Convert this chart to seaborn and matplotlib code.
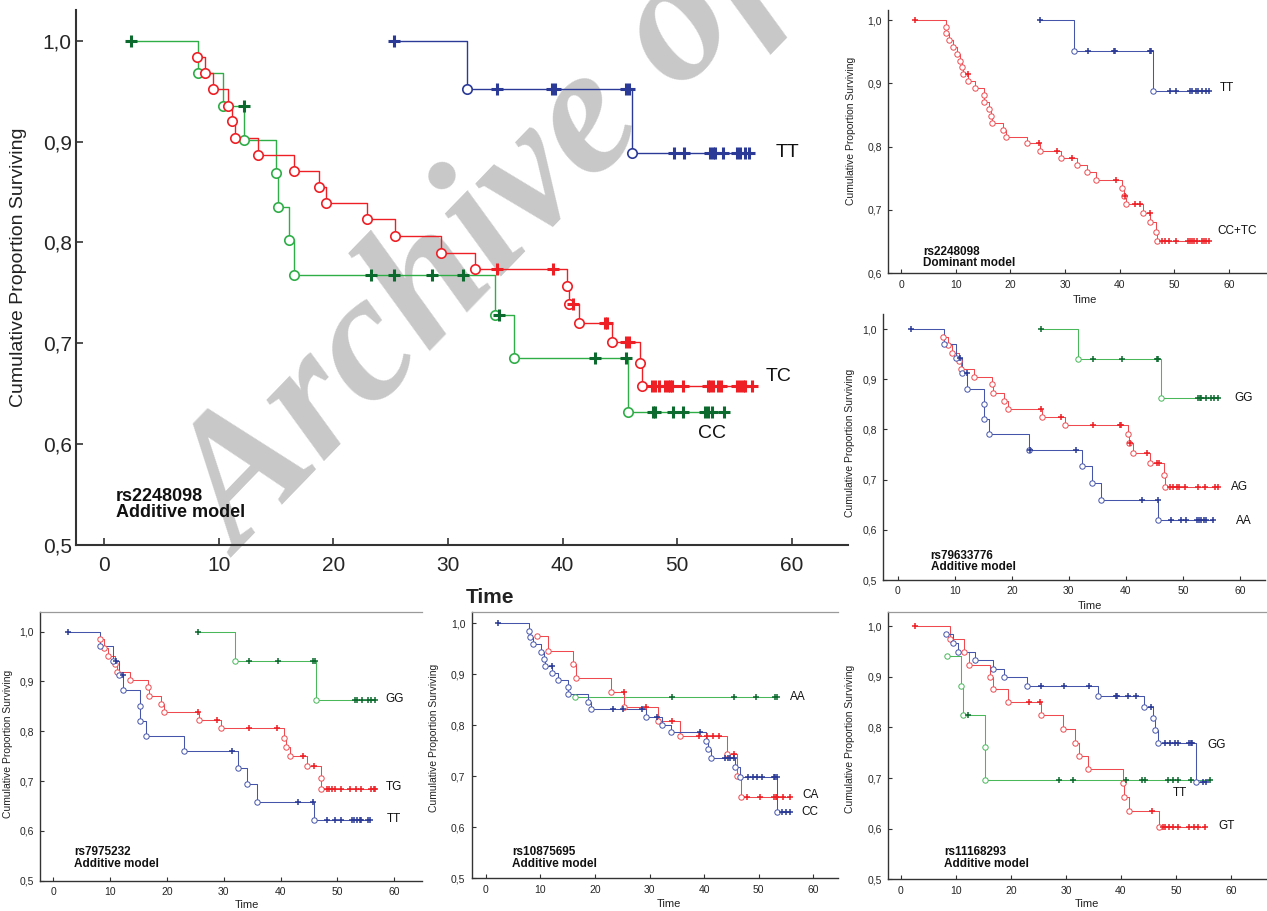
import numpy as np
import pandas as pd
import matplotlib
matplotlib.use('Agg')
import matplotlib.pyplot as plt
import seaborn as sns
from matplotlib.ticker import FuncFormatter
import warnings

warnings.filterwarnings('ignore')

# ---- data: event times / survival after event / censored times ----
# main panel, rs2248098 additive model
main_cc_ev_t = [8.2, 10.35, 12.2, 15.0, 15.2, 16.1, 16.6, 34.1, 35.8, 45.7]
main_cc_ev_s = [0.968, 0.935, 0.902, 0.869, 0.835, 0.802, 0.768, 0.728, 0.685, 0.632]
main_cc_cen_t = [2.4, 12.2, 23.3, 25.3, 28.6, 31.3, 34.5, 42.8, 45.5, 47.9, 48.1,
                 49.6, 50.5, 52.4, 52.7, 53.0, 54.1]
main_tc_ev_t = [8.15, 8.85, 9.53, 10.82, 11.13, 11.39, 13.46, 16.6, 18.8, 19.35,
                22.95, 25.4, 29.4, 32.4, 40.4, 40.6, 41.4, 44.3, 46.8, 46.9]
main_tc_ev_s = [0.984, 0.968, 0.952, 0.9355, 0.920, 0.904, 0.887, 0.871, 0.855, 0.839,
                0.823, 0.8065, 0.790, 0.774, 0.757, 0.7385, 0.720, 0.701, 0.680, 0.658]
main_tc_cen_t = [34.3, 39.2, 40.9, 43.7, 43.9, 45.5, 45.8, 47.8, 48.1, 48.4, 48.97,
                 49.2, 49.4, 49.55, 50.5, 52.7, 52.9, 53.1, 53.6, 53.8, 55.2, 55.5,
                 55.7, 55.9, 56.5]
main_tt_ev_t = [31.7, 46.1]
main_tt_ev_s = [0.952, 0.889]
main_tt_cen_t = [25.3, 34.3, 39.1, 39.3, 45.5, 45.8, 49.7, 50.6, 52.9, 53.1, 53.3,
                 54.0, 55.2, 55.5, 55.9, 56.3]

# top right, rs2248098 dominant model
dom_cctc_ev_t = [8.19, 8.25, 8.86, 9.6, 10.3, 10.8, 11.1, 11.4, 12.3, 13.5,
                 15.1, 15.2, 16.1, 16.55, 16.7, 18.75, 19.3, 23.0, 25.5, 29.3,
                 32.3, 34.0, 35.7, 40.4, 40.75, 41.2, 44.2, 45.6, 46.7, 46.85]
dom_cctc_ev_s = [0.9895, 0.979, 0.968, 0.957, 0.946, 0.936, 0.925, 0.915, 0.904, 0.892,
                 0.8816, 0.8705, 0.859, 0.849, 0.838, 0.827, 0.816, 0.805, 0.7937, 0.7826,
                 0.771, 0.7595, 0.747, 0.734, 0.7226, 0.709, 0.696, 0.6816, 0.666, 0.6505]
dom_cctc_cen_t = [2.57, 12.3, 25.3, 28.6, 31.3, 39.3, 41.0, 42.8, 43.8, 45.5, 47.8,
                  48.4, 49.0, 50.4, 52.5, 52.95, 53.3, 53.7, 54.2, 55.1, 55.5, 55.9, 56.3]
dom_tt_ev_t = [31.6, 46.06]
dom_tt_ev_s = [0.9516, 0.888]
dom_tt_cen_t = [25.35, 34.3, 38.9, 39.1, 45.5, 45.8, 49.3, 50.4, 52.8, 53.3, 53.9,
                54.3, 55.1, 55.9, 56.3]

# middle right, rs79633776
r796_gg_ev_t = [31.66, 46.1]
r796_gg_ev_s = [0.9408, 0.8624]
r796_gg_cen_t = [25.1, 34.3, 39.25, 45.4, 45.7, 52.7, 53.0, 53.2, 54.0, 54.9, 55.4, 56.1]
r796_ag_ev_t = [8.0, 8.76, 9.46, 10.75, 11.04, 13.3, 16.5, 16.65, 18.7, 19.3,
                25.3, 29.4, 40.4, 40.5, 41.3, 44.2, 46.7, 46.85]
r796_ag_ev_s = [0.984, 0.968, 0.952, 0.937, 0.920, 0.905, 0.890, 0.873, 0.857, 0.841,
                0.825, 0.8085, 0.790, 0.772, 0.7527, 0.733, 0.7094, 0.6862]
r796_ag_cen_t = [25.2, 28.7, 34.3, 39.0, 39.2, 40.8, 43.7, 45.5, 45.8, 47.7, 48.3,
                 48.9, 49.35, 50.35, 52.7, 53.85, 55.6, 56.1]
r796_aa_ev_t = [8.1, 10.3, 11.3, 12.2, 15.07, 15.1, 16.06, 22.96, 32.3, 34.0, 35.7, 45.7]
r796_aa_ev_s = [0.9707, 0.9415, 0.912, 0.881, 0.850, 0.8205, 0.790, 0.7593,
                0.7274, 0.6935, 0.659, 0.6197]
r796_aa_cen_t = [2.34, 10.9, 12.1, 23.2, 31.25, 42.75, 45.6, 47.9, 49.6, 50.5,
                 52.5, 52.8, 53.1, 53.7, 54.0, 55.3]

# bottom left, rs7975232
r797_gg_ev_t = [31.96, 46.3]
r797_gg_ev_s = [0.941, 0.8628]
r797_gg_cen_t = [25.5, 34.5, 39.5, 45.75, 46.1, 53.1, 53.5, 54.4, 55.4, 56.0, 56.6]
r797_tg_ev_t = [8.2, 8.97, 9.56, 10.85, 11.2, 13.55, 16.7, 16.8, 18.9, 19.5,
                25.6, 29.6, 40.6, 40.9, 41.6, 44.6, 47.1, 47.2]
r797_tg_ev_s = [0.9846, 0.968, 0.952, 0.936, 0.9197, 0.903, 0.888, 0.8715, 0.855, 0.839,
                0.8226, 0.806, 0.787, 0.769, 0.750, 0.730, 0.707, 0.684]
r797_tg_cen_t = [25.5, 28.9, 34.4, 39.3, 44.0, 45.9, 48.1, 48.6, 49.1, 49.6, 50.6,
                 52.2, 53.3, 54.1, 55.9, 56.4, 56.7]
r797_tt_ev_t = [8.2, 10.5, 11.5, 12.3, 15.25, 15.3, 16.25, 23.05, 32.55, 34.1, 35.9, 45.9]
r797_tt_ev_s = [0.971, 0.9418, 0.912, 0.882, 0.8514, 0.8206, 0.7905, 0.760,
                0.727, 0.6934, 0.6586, 0.621]
r797_tt_cen_t = [2.52, 11.0, 12.2, 31.5, 43.1, 45.8, 48.2, 49.6, 50.6, 52.6, 52.9,
                 53.4, 53.9, 54.2, 55.4, 55.7]

# bottom middle, rs10875695
r108_aa_ev_t = [16.4]
r108_aa_ev_s = [0.856]
r108_aa_cen_t = [34.2, 45.4, 49.5, 53.0, 53.3]
r108_ca_ev_t = [9.34, 11.36, 15.93, 16.48, 22.9, 25.33, 31.5, 35.6, 44.1, 46.1, 46.75]
r108_ca_ev_s = [0.974, 0.9464, 0.9196, 0.893, 0.8647, 0.8366, 0.8085, 0.778,
                0.743, 0.7006, 0.660]
r108_ca_cen_t = [25.25, 29.4, 34.2, 39.1, 40.5, 41.6, 42.7, 45.5, 47.8, 50.3, 52.7,
                 53.1, 53.4, 54.4, 55.7]
r108_cc_ev_t = [8.0, 8.12, 8.73, 10.13, 10.68, 10.9, 12.15, 13.3, 15.0, 15.05,
                18.7, 19.2, 29.36, 32.2, 33.9, 40.35, 40.65, 41.2, 45.6, 46.6, 53.4]
r108_cc_ev_s = [0.9856, 0.9725, 0.9588, 0.9444, 0.930, 0.9163, 0.9026, 0.889, 0.8745, 0.861,
                0.8464, 0.8314, 0.8157, 0.80, 0.786, 0.770, 0.753, 0.7365, 0.7176, 0.698, 0.629]
r108_cc_cen_t = [2.2, 12.1, 23.3, 25.2, 28.6, 31.3, 39.25, 43.8, 44.3, 44.75, 45.4,
                 48.1, 49.0, 49.6, 50.5, 52.7, 53.0, 53.3, 54.2, 55.0, 55.7]

# bottom right, rs11168293
r111_gt_ev_t = [8.9, 11.45, 12.3, 16.1, 16.7, 19.4, 25.45, 29.4, 31.7, 32.4, 34.06,
                40.4, 40.6, 41.4, 46.9]
r111_gt_ev_s = [0.974, 0.949, 0.924, 0.899, 0.875, 0.850, 0.8237, 0.797, 0.770, 0.744,
                0.717, 0.6895, 0.662, 0.635, 0.6026]
r111_gt_cen_t = [2.55, 23.3, 25.3, 45.6, 47.7, 48.0, 48.7, 49.5, 50.4, 52.4, 53.3, 54.1, 55.3]
r111_gg_ev_t = [8.2, 9.5, 10.4, 13.45, 16.7, 18.8, 22.97, 35.76, 44.24, 45.76, 46.2, 46.8, 53.6]
r111_gg_ev_s = [0.9836, 0.9658, 0.949, 0.933, 0.915, 0.8987, 0.8816, 0.862, 0.8408,
                0.8184, 0.794, 0.770, 0.6928]
r111_gg_cen_t = [25.45, 29.6, 34.2, 39.1, 39.3, 41.3, 42.7, 45.4, 48.0, 48.9, 49.8,
                 50.4, 52.4, 52.7, 53.0, 55.0, 55.45]
r111_tt_ev_t = [8.3, 10.85, 11.2, 15.27, 15.3]
r111_tt_ev_s = [0.9414, 0.8822, 0.8243, 0.7605, 0.697]
r111_tt_cen_t = [12.2, 28.7, 31.3, 40.9, 43.8, 44.4, 48.6, 49.4, 50.4, 52.7, 56.2]

# ---- style ----
sns.set_style('ticks')
plt.rcParams['font.family'] = ['Liberation Sans', 'DejaVu Sans']
plt.rcParams['xtick.direction'] = 'in'
plt.rcParams['ytick.direction'] = 'in'

RED, RED_L = '#ee2026', '#f04a50'
BLUE, BLUE_L = '#2b3a96', '#4555aa'
GREEN, GREEN_L, GREEN_D = '#2fae48', '#48b85a', '#0d6a2e'

comma = FuncFormatter(lambda v, p: f'{v:.1f}'.replace('.', ','))


def km_frame(ev_t, ev_s, cen_t):
    ev_t = np.asarray(ev_t, float)
    ev_s = np.asarray(ev_s, float)
    cen_t = np.asarray(cen_t, float)
    idx = np.searchsorted(ev_t, cen_t, side='left')
    cen_s = np.where(idx > 0, ev_s[np.maximum(idx - 1, 0)], 1.0)
    df = pd.concat([
        pd.DataFrame({'t': ev_t, 's': ev_s, 'kind': 'event', 'order': 1}),
        pd.DataFrame({'t': cen_t, 's': cen_s, 'kind': 'cens', 'order': 0}),
    ])
    return df.sort_values(['t', 'order'], kind='stable').reset_index(drop=True)


def draw_km(ax, ev_t, ev_s, cen_t, line_c, cross_c, big):
    df = km_frame(ev_t, ev_s, cen_t)
    lw = 1.0 if big else 0.75
    sns.lineplot(data=df, x='t', y='s', ax=ax, color=line_c, lw=lw,
                 drawstyle='steps-post', estimator=None, sort=False)
    ev = df[df['kind'] == 'event']
    ce = df[df['kind'] == 'cens']
    sns.scatterplot(data=ev, x='t', y='s', ax=ax, marker='o', s=46 if big else 15,
                    color=line_c, facecolor='white', edgecolor=line_c,
                    linewidth=1.2 if big else 0.7, zorder=3)
    sns.scatterplot(data=ce, x='t', y='s', ax=ax, marker='+', s=70 if big else 18,
                    color=cross_c, linewidth=2.2 if big else 1.1, zorder=4)


def style_axes(ax, xlim, ylim, yticks, big, top_line=False):
    ax.set_xlim(*xlim)
    ax.set_ylim(*ylim)
    ax.set_xticks([0, 10, 20, 30, 40, 50, 60])
    ax.set_yticks(yticks)
    ax.yaxis.set_major_formatter(comma)
    ax.set_facecolor('none')
    for side in ['right', 'top']:
        ax.spines[side].set_visible(False)
    if top_line:
        ax.spines['top'].set_visible(True)
        ax.spines['top'].set_color('#9a9a9a')
        ax.spines['top'].set_linewidth(0.9)
    for side in ['left', 'bottom']:
        ax.spines[side].set_color('#333333')
        ax.spines[side].set_linewidth(1.5 if big else 1.0)
    if big:
        ax.tick_params(labelsize=15, length=5, width=1.2, color='#333333', pad=8)
        ax.tick_params(axis='y', pad=3)
    else:
        ax.tick_params(labelsize=7.5, length=3, width=0.8, color='#333333', pad=4.5)


def labels(ax, big, yl_pos, xl_pos):
    ax.set_ylabel('Cumulative Proportion Surviving', fontsize=14 if big else 7.5,
                  color='#222222')
    ax.yaxis.set_label_coords(*yl_pos)
    ax.set_xlabel('Time', fontsize=15 if big else 8, fontweight='bold' if big else 'normal',
                  color='#222222')
    ax.xaxis.set_label_coords(*xl_pos)


def snp_note(ax, text, pos, big):
    ax.text(pos[0], pos[1], text, transform=ax.transAxes, ha='left', va='bottom',
            fontweight='bold', fontsize=13 if big else 8.5, linespacing=0.95,
            color='#111111')


W, H = 1267, 911
fig = plt.figure(figsize=(W / 100, H / 100), dpi=100)


def add_ax(left, right, top, bottom):
    return fig.add_axes([left / W, (H - bottom) / H, (right - left) / W, (bottom - top) / H])


# watermark behind everything
fig.text(240 / W, (H - 558) / H, 'Archive of SID', rotation=46, rotation_mode='anchor',
         ha='left', va='baseline', fontsize=132, color='#c8c8c8',
         family=['Liberation Serif', 'DejaVu Serif'], fontweight='bold', fontstyle='italic',
         zorder=-5)

# main panel
ax = add_ax(76, 848, 10, 545)
draw_km(ax, main_cc_ev_t, main_cc_ev_s, main_cc_cen_t, GREEN, GREEN_D, True)
draw_km(ax, main_tc_ev_t, main_tc_ev_s, main_tc_cen_t, RED, RED, True)
draw_km(ax, main_tt_ev_t, main_tt_ev_s, main_tt_cen_t, BLUE, BLUE, True)
style_axes(ax, (-2.44, 64.9), (0.5, 1.0305), [0.5, 0.6, 0.7, 0.8, 0.9, 1.0], True)
labels(ax, True, (-0.064, 0.52), (0.536, -0.080))
for txt, x, y in [('TT', 59.6, 0.889), ('TC', 58.8, 0.667), ('CC', 53.0, 0.611)]:
    ax.text(x, y, txt, fontsize=14, ha='center', va='center', color='#111111')
snp_note(ax, 'rs2248098\nAdditive model', (0.0514, 0.045), True)

# top right
ax = add_ax(888, 1266, 10, 273.3)
draw_km(ax, dom_cctc_ev_t, dom_cctc_ev_s, dom_cctc_cen_t, RED_L, RED, False)
draw_km(ax, dom_tt_ev_t, dom_tt_ev_s, dom_tt_cen_t, BLUE_L, BLUE, False)
style_axes(ax, (-2.38, 66.8), (0.6, 1.0158), [0.6, 0.7, 0.8, 0.9, 1.0], False)
labels(ax, False, (-0.085, 0.54), (0.521, -0.082))
for txt, x, y in [('TT', 59.65, 0.8926), ('CC+TC', 61.5, 0.667)]:
    ax.text(x, y, txt, fontsize=8.5, ha='center', va='center', color='#111111')
snp_note(ax, 'rs2248098\nDominant model', (0.0926, 0.016), False)

# middle right
ax = add_ax(883.3, 1265, 314, 580)
draw_km(ax, r796_gg_ev_t, r796_gg_ev_s, r796_gg_cen_t, GREEN_L, GREEN_D, False)
draw_km(ax, r796_ag_ev_t, r796_ag_ev_s, r796_ag_cen_t, RED_L, RED, False)
draw_km(ax, r796_aa_ev_t, r796_aa_ev_s, r796_aa_cen_t, BLUE_L, BLUE, False)
style_axes(ax, (-2.52, 64.4), (0.5, 1.03), [0.5, 0.6, 0.7, 0.8, 0.9, 1.0], False)
labels(ax, False, (-0.074, 0.517), (0.5415, -0.079))
for txt, x, y in [('GG', 60.7, 0.863), ('AG', 59.9, 0.686), ('AA', 60.7, 0.618)]:
    ax.text(x, y, txt, fontsize=8.5, ha='center', va='center', color='#111111')
snp_note(ax, 'rs79633776\nAdditive model', (0.124, 0.026), False)

# bottom left
ax = add_ax(40, 422, 611.7, 880.7)
draw_km(ax, r797_gg_ev_t, r797_gg_ev_s, r797_gg_cen_t, GREEN_L, GREEN_D, False)
draw_km(ax, r797_tg_ev_t, r797_tg_ev_s, r797_tg_cen_t, RED_L, RED, False)
draw_km(ax, r797_tt_ev_t, r797_tt_ev_s, r797_tt_cen_t, BLUE_L, BLUE, False)
style_axes(ax, (-2.34, 64.9), (0.5, 1.04), [0.5, 0.6, 0.7, 0.8, 0.9, 1.0], False, top_line=True)
labels(ax, False, (-0.07, 0.508), (0.541, -0.072))
for txt, x, y in [('GG', 60.1, 0.865), ('TG', 60.0, 0.6875), ('TT', 60.0, 0.624)]:
    ax.text(x, y, txt, fontsize=8.5, ha='center', va='center', color='#111111')
snp_note(ax, 'rs7975232\nAdditive model', (0.089, 0.04), False)

# bottom middle
ax = add_ax(471.7, 838, 612, 878.3)
draw_km(ax, r108_aa_ev_t, r108_aa_ev_s, r108_aa_cen_t, GREEN_L, GREEN_D, False)
draw_km(ax, r108_ca_ev_t, r108_ca_ev_s, r108_ca_cen_t, RED_L, RED, False)
draw_km(ax, r108_cc_ev_t, r108_cc_ev_s, r108_cc_cen_t, BLUE_L, BLUE, False)
style_axes(ax, (-2.56, 64.5), (0.5, 1.022), [0.5, 0.6, 0.7, 0.8, 0.9, 1.0], False, top_line=True)
labels(ax, False, (-0.089, 0.527), (0.539, -0.078))
for txt, x, y in [('AA', 57.1, 0.856), ('CA', 59.4, 0.663), ('CC', 59.4, 0.629)]:
    ax.text(x, y, txt, fontsize=8.5, ha='center', va='center', color='#111111')
snp_note(ax, 'rs10875695\nAdditive model', (0.111, 0.031), False)

# bottom right
ax = add_ax(888.3, 1266, 612, 879.3)
draw_km(ax, r111_tt_ev_t, r111_tt_ev_s, r111_tt_cen_t, GREEN_L, GREEN_D, False)
draw_km(ax, r111_gt_ev_t, r111_gt_ev_s, r111_gt_cen_t, RED_L, RED, False)
draw_km(ax, r111_gg_ev_t, r111_gg_ev_s, r111_gg_cen_t, BLUE_L, BLUE, False)
style_axes(ax, (-2.31, 66.4), (0.5, 1.028), [0.5, 0.6, 0.7, 0.8, 0.9, 1.0], False, top_line=True)
labels(ax, False, (-0.088, 0.525), (0.525, -0.074))
for txt, x, y in [('GG', 57.4, 0.765), ('TT', 50.7, 0.670), ('GT', 59.2, 0.605)]:
    ax.text(x, y, txt, fontsize=8.5, ha='center', va='center', color='#111111')
snp_note(ax, 'rs11168293\nAdditive model', (0.148, 0.035), False)

fig.savefig('out.png', dpi=100)
